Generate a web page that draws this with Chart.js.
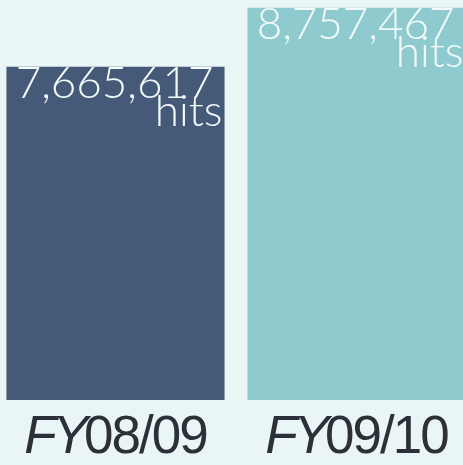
<!DOCTYPE html>
<html>
<head>
<meta charset="utf-8">
<script src="https://cdn.jsdelivr.net/npm/chart.js@4.4.0/dist/chart.umd.min.js"></script>
<style>
  html, body { margin: 0; padding: 0; background: #eaf6f5; overflow: hidden; }
  #wrap { position: absolute; left: -5px; top: 0; width: 482px; height: 465px; }
</style>
</head>
<body>
<div id="wrap"><canvas id="hitsChart"></canvas></div>
<script>
const years = ["08/09", "09/10"];
const hits = [7665617, 8757467];
const barColors = ["#445a78", "#8fcacf"];

// draws the value text inside each bar and the "FY" labels under them
const labelPlugin = {
  id: 'barLabels',
  afterDatasetsDraw(chart) {
    const ctx = chart.ctx;
    const meta = chart.getDatasetMeta(0);
    const xScale = chart.scales.x;
    ctx.save();
    meta.data.forEach((bar, i) => {
      const right = bar.x + bar.width / 2;
      ctx.fillStyle = '#f2f9f9';
      ctx.textAlign = 'right';
      ctx.textBaseline = 'alphabetic';
      ctx.font = '300 44px Lato';
      ctx.letterSpacing = '0px';
      ctx.fillText(hits[i].toLocaleString('en-US'), right - 11, bar.y + 31);
      ctx.fillText('hits', right - 2, bar.y + 59);

      const cx = xScale.getPixelForValue(i);
      ctx.fillStyle = '#2e3039';
      ctx.textAlign = 'left';
      ctx.letterSpacing = '-4px';
      ctx.font = 'italic 53px "Liberation Sans"';
      const fy = 'FY';
      const fyW = ctx.measureText(fy).width;
      ctx.letterSpacing = '-2px';
      ctx.font = '53px "Liberation Sans"';
      const restW = ctx.measureText(years[i]).width;
      const x0 = cx - (fyW + restW) / 2;
      ctx.letterSpacing = '-4px';
      ctx.font = 'italic 53px "Liberation Sans"';
      ctx.fillText(fy, x0, 453);
      ctx.letterSpacing = '-2px';
      ctx.font = '53px "Liberation Sans"';
      ctx.fillText(years[i], x0 + fyW, 453);
    });
    ctx.restore();
  }
};

new Chart(document.getElementById('hitsChart'), {
  type: 'bar',
  data: {
    labels: years.map(y => 'FY' + y),
    datasets: [{
      data: hits,
      backgroundColor: barColors,
      borderWidth: 0,
      barPercentage: 1,
      categoryPercentage: 0.905
    }]
  },
  options: {
    responsive: true,
    maintainAspectRatio: false,
    animation: false,
    layout: { padding: { top: 0, bottom: 65, left: 0, right: 0 } },
    plugins: { legend: { display: false }, tooltip: { enabled: false } },
    scales: {
      x: { display: false },
      y: { display: false, min: 1500000, max: 8900000 }
    }
  },
  plugins: [labelPlugin]
});
</script>
</body>
</html>
